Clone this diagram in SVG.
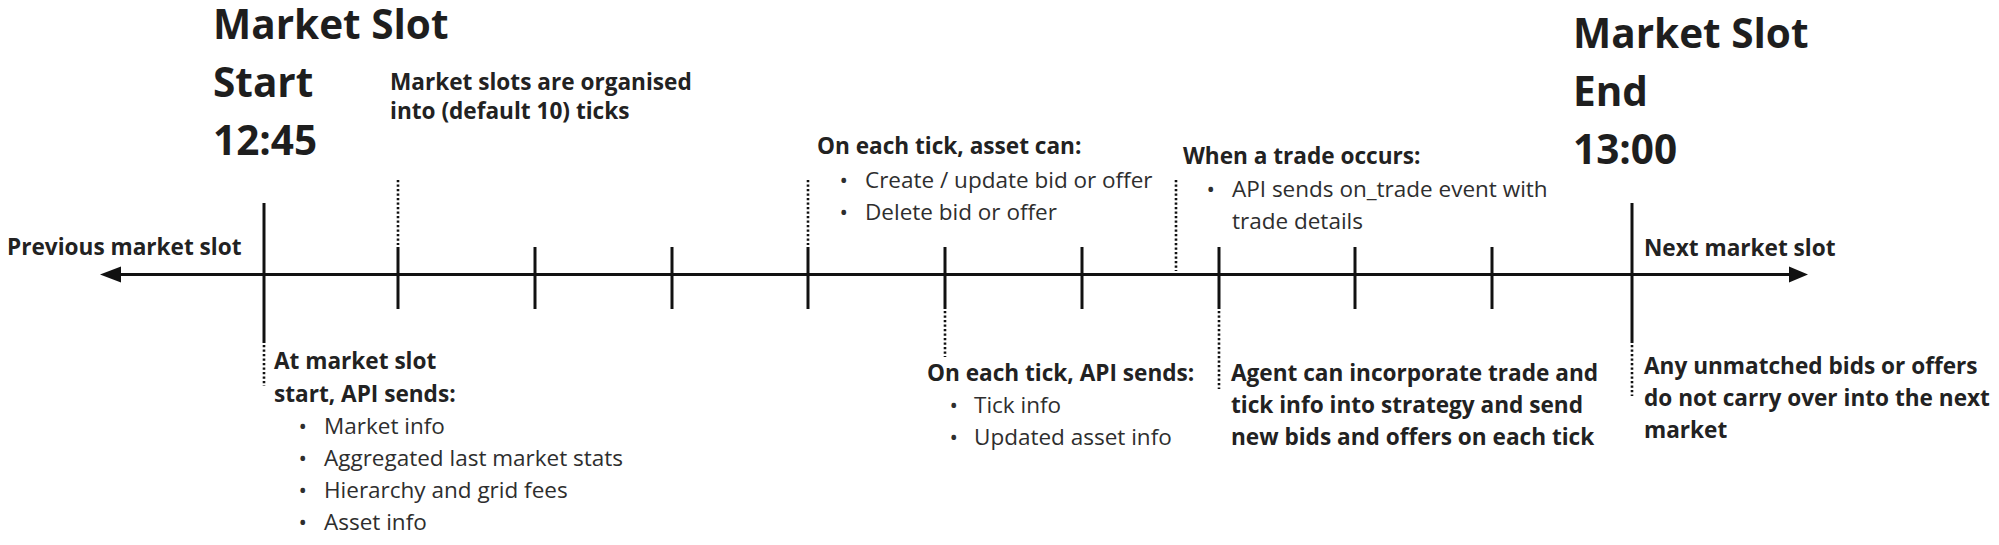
<svg xmlns="http://www.w3.org/2000/svg" width="1999" height="545" viewBox="0 0 1999 545">
  <style>
    text { font-family: "Open Sans", "Noto Sans", "Liberation Sans", sans-serif; }
    .title { font-size: 40.5px; font-weight: 700; fill: #1e1e1e; }
    .lbl { font-size: 22.6px; font-weight: 700; fill: #222; }
    .item { font-size: 22.5px; font-weight: 400; fill: #2e2e2e; }
    .axis { stroke: #111; stroke-width: 3; fill: none; }
    .tick { stroke: #111; stroke-width: 3; }
    .dot { stroke: #111; stroke-width: 2.6; stroke-dasharray: 2.2 2.3; }
    .head { fill: #111; }
  </style>
  <rect width="1999" height="545" fill="#fff"/>

  <g id="connectors">
    <line class="axis" x1="118" y1="274.5" x2="1792" y2="274.5"/>
    <polygon class="head" points="100,274.5 121,266.5 121,282.5"/>
    <polygon class="head" points="1808,274.5 1789,266.5 1789,282.5"/>
    <line class="tick" x1="264" y1="203" x2="264" y2="343"/>
    <line class="tick" x1="1632" y1="203" x2="1632" y2="343"/>
    <line class="tick" x1="398" y1="247" x2="398" y2="309"/>
    <line class="tick" x1="535" y1="247" x2="535" y2="309"/>
    <line class="tick" x1="672" y1="247" x2="672" y2="309"/>
    <line class="tick" x1="808" y1="247" x2="808" y2="309"/>
    <line class="tick" x1="945" y1="247" x2="945" y2="309"/>
    <line class="tick" x1="1082" y1="247" x2="1082" y2="309"/>
    <line class="tick" x1="1219" y1="247" x2="1219" y2="309"/>
    <line class="tick" x1="1355" y1="247" x2="1355" y2="309"/>
    <line class="tick" x1="1492" y1="247" x2="1492" y2="309"/>
    <line class="dot" x1="264" y1="345" x2="264" y2="386"/>
    <line class="dot" x1="1632" y1="345" x2="1632" y2="396"/>
    <line class="dot" x1="398" y1="180" x2="398" y2="245"/>
    <line class="dot" x1="808" y1="180" x2="808" y2="245"/>
    <line class="dot" x1="1176" y1="180" x2="1176" y2="271"/>
    <line class="dot" x1="945" y1="311" x2="945" y2="357"/>
    <line class="dot" x1="1219" y1="311" x2="1219" y2="389"/>
  </g>

  <g id="slot-start">
    <text class="title" x="213" y="39">Market Slot</text>
    <text class="title" x="213" y="97">Start</text>
    <text class="title" x="213" y="155">12:45</text>
  </g>

  <g id="slot-end">
    <text class="title" x="1573" y="48">Market Slot</text>
    <text class="title" x="1573" y="106">End</text>
    <text class="title" x="1573" y="164">13:00</text>
  </g>

  <g id="ticks-note">
    <text class="lbl" x="390" y="90">Market slots are organised</text>
    <text class="lbl" x="390" y="119">into (default 10) ticks</text>
  </g>

  <g id="previous-slot">
    <text class="lbl" x="7" y="255">Previous market slot</text>
  </g>

  <g id="next-slot">
    <text class="lbl" x="1644" y="256">Next market slot</text>
  </g>

  <g id="start-api">
    <text class="lbl" x="274" y="369">At market slot</text>
    <text class="lbl" x="274" y="401.5">start, API sends:</text>
    <text class="item" x="298.5" y="433.5">•</text>
    <text class="item" x="324" y="433.5">Market info</text>
    <text class="item" x="298.5" y="466">•</text>
    <text class="item" x="324" y="466">Aggregated last market stats</text>
    <text class="item" x="298.5" y="498">•</text>
    <text class="item" x="324" y="498">Hierarchy and grid fees</text>
    <text class="item" x="298.5" y="530">•</text>
    <text class="item" x="324" y="530">Asset info</text>
  </g>

  <g id="asset-can">
    <text class="lbl" x="817" y="154">On each tick, asset can:</text>
    <text class="item" x="839.5" y="187.5">•</text>
    <text class="item" x="865" y="187.5">Create / update bid or offer</text>
    <text class="item" x="839.5" y="219.5">•</text>
    <text class="item" x="865" y="219.5">Delete bid or offer</text>
  </g>

  <g id="trade-occurs">
    <text class="lbl" x="1183" y="164">When a trade occurs:</text>
    <text class="item" x="1206.5" y="196.5">•</text>
    <text class="item" x="1232" y="196.5">API sends on_trade event with</text>
    <text class="item" x="1232" y="228.5">trade details</text>
  </g>

  <g id="tick-api">
    <text class="lbl" x="927" y="381">On each tick, API sends:</text>
    <text class="item" x="949.5" y="413">•</text>
    <text class="item" x="974" y="413">Tick info</text>
    <text class="item" x="949.5" y="445">•</text>
    <text class="item" x="974" y="445">Updated asset info</text>
  </g>

  <g id="agent">
    <text class="lbl" x="1231" y="381">Agent can incorporate trade and</text>
    <text class="lbl" x="1231" y="413">tick info into strategy and send</text>
    <text class="lbl" x="1231" y="445">new bids and offers on each tick</text>
  </g>

  <g id="unmatched">
    <text class="lbl" x="1644" y="374">Any unmatched bids or offers</text>
    <text class="lbl" x="1644" y="406">do not carry over into the next</text>
    <text class="lbl" x="1644" y="438">market</text>
  </g>
</svg>
